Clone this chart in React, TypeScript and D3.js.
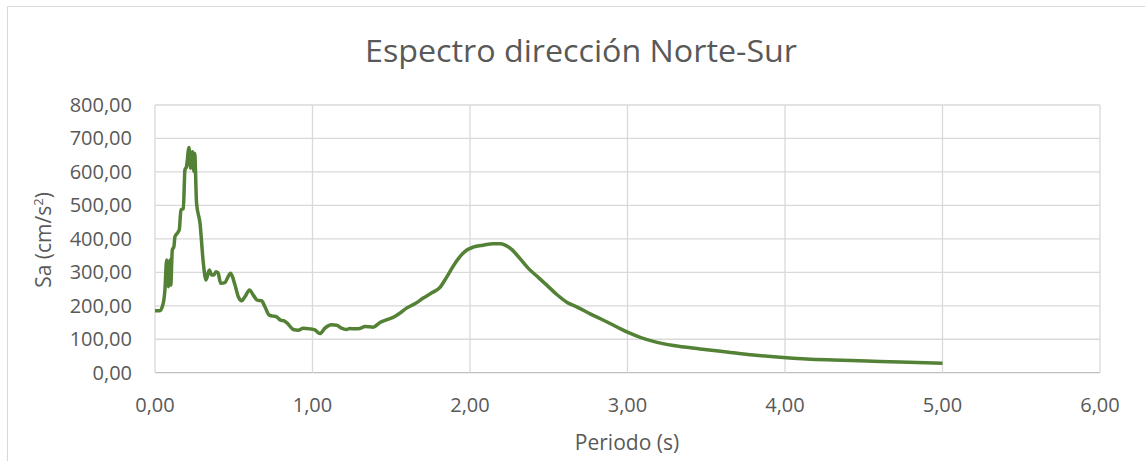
import React from "react";
import * as d3 from "d3";

// Periodo (s) and Sa (cm/s²)
const periodos = [
  0.0, 0.03, 0.05, 0.063, 0.074, 0.085, 0.095, 0.1, 0.11, 0.12, 0.127, 0.142,
  0.154, 0.165, 0.18, 0.19, 0.2, 0.216, 0.226, 0.239, 0.247, 0.252, 0.264,
  0.286, 0.307, 0.324, 0.345, 0.36, 0.374, 0.387, 0.4, 0.417, 0.444, 0.459,
  0.48, 0.508, 0.529, 0.55, 0.571, 0.6, 0.624, 0.649, 0.677, 0.698, 0.725,
  0.751, 0.772, 0.797, 0.82, 0.846, 0.878, 0.909, 0.941, 0.983, 1.015, 1.047,
  1.079, 1.12, 1.153, 1.184, 1.216, 1.237, 1.269, 1.301, 1.333, 1.385, 1.428,
  1.47, 1.523, 1.555, 1.597, 1.65, 1.703, 1.755, 1.808, 1.851, 1.893, 1.935,
  1.978, 2.02, 2.083, 2.147, 2.19, 2.223, 2.266, 2.319, 2.372, 2.426, 2.489,
  2.553, 2.617, 2.681, 2.766, 2.851, 2.936, 3.0, 3.085, 3.17, 3.292, 3.461,
  3.63, 3.799, 3.968, 4.137, 4.307, 4.518, 4.73, 5.0,
];
const sa = [
  185, 185, 203, 247, 337, 257, 337, 262, 367, 377, 407, 417, 427, 487, 490,
  606, 616, 673, 611, 660, 601, 655, 506, 446, 327, 277, 307, 292, 292, 302,
  299, 267, 269, 282, 297, 262, 227, 215, 227, 247, 232, 217, 215, 197, 172,
  169, 167, 157, 155, 145, 129, 127, 133, 131, 128, 117, 133, 143, 142, 133,
  129, 132, 131, 132, 138, 136, 150, 158, 168, 178, 193, 206, 223, 238, 254,
  285, 318, 346, 366, 375, 381, 385, 385, 381, 368, 340, 311, 288, 261, 233,
  210, 196, 175, 156, 136, 121, 105, 93, 81, 71, 62, 53, 46, 41, 38, 35, 32,
  28,
];
const xTicks = [0, 1, 2, 3, 4, 5, 6];
const yTicks = [0, 100, 200, 300, 400, 500, 600, 700, 800];

const W = 1145;
const H = 461;
const plot = { left: 155, right: 1100, top: 105, bottom: 372.7 };
const textColor = "#595959";
const gridColor = "#d9d9d9";
const font = "'Open Sans', sans-serif";

const esFmt = d3
  .formatLocale({ decimal: ",", thousands: ".", grouping: [3], currency: ["", ""] })
  .format(".2f");

export default function App() {
  const x = d3.scaleLinear().domain([0, 6]).range([plot.left, plot.right]);
  const y = d3.scaleLinear().domain([0, 800]).range([plot.bottom, plot.top]);

  const points = periodos.map((t, i) => [t, sa[i]] as [number, number]);
  const line = d3
    .line<[number, number]>()
    .x((d) => x(d[0]))
    .y((d) => y(d[1]))
    .curve(d3.curveMonotoneX);

  return (
    <svg
      width={W}
      height={H}
      style={{ position: "absolute", left: 0, top: 0, background: "#fff" }}
    >
      <rect x={7.5} y={6.5} width={W + 10} height={H + 10} fill="#fff" stroke={gridColor} />
      <text
        x={581}
        y={62}
        textAnchor="middle"
        fontFamily={font}
        fontSize={31}
        fill={textColor}
        textLength={432}
        lengthAdjust="spacingAndGlyphs"
      >
        Espectro dirección Norte-Sur
      </text>

      {/* grid */}
      {yTicks.map((v) => (
        <line
          key={"gy" + v}
          x1={plot.left}
          x2={plot.right}
          y1={y(v)}
          y2={y(v)}
          stroke={v === 0 ? "#bfbfbf" : gridColor}
          strokeWidth={1.3}
        />
      ))}
      {xTicks.map((v) => (
        <line
          key={"gx" + v}
          x1={x(v)}
          x2={x(v)}
          y1={plot.top}
          y2={plot.bottom}
          stroke={gridColor}
          strokeWidth={1.3}
        />
      ))}

      {/* tick labels */}
      {yTicks.map((v) => (
        <text
          key={"ty" + v}
          x={132}
          y={y(v)}
          dy="0.35em"
          textAnchor="end"
          fontFamily={font}
          fontSize={20}
          fill={textColor}
        >
          {esFmt(v)}
        </text>
      ))}
      {xTicks.map((v) => (
        <text
          key={"tx" + v}
          x={x(v)}
          y={412}
          textAnchor="middle"
          fontFamily={font}
          fontSize={20}
          fill={textColor}
        >
          {esFmt(v)}
        </text>
      ))}

      {/* axis titles */}
      <text
        x={627}
        y={450}
        textAnchor="middle"
        fontFamily={font}
        fontSize={21}
        fill={textColor}
      >
        Periodo (s)
      </text>
      <text
        transform="translate(51,240) rotate(-90)"
        textAnchor="middle"
        fontFamily={font}
        fontSize={21}
        fill={textColor}
      >
        Sa (cm/s<tspan dy={-8} fontSize={13}>2</tspan>
        <tspan dy={8}>)</tspan>
      </text>

      <path
        d={line(points) || ""}
        fill="none"
        stroke="#538135"
        strokeWidth={3.5}
        strokeLinejoin="round"
      />
    </svg>
  );
}
